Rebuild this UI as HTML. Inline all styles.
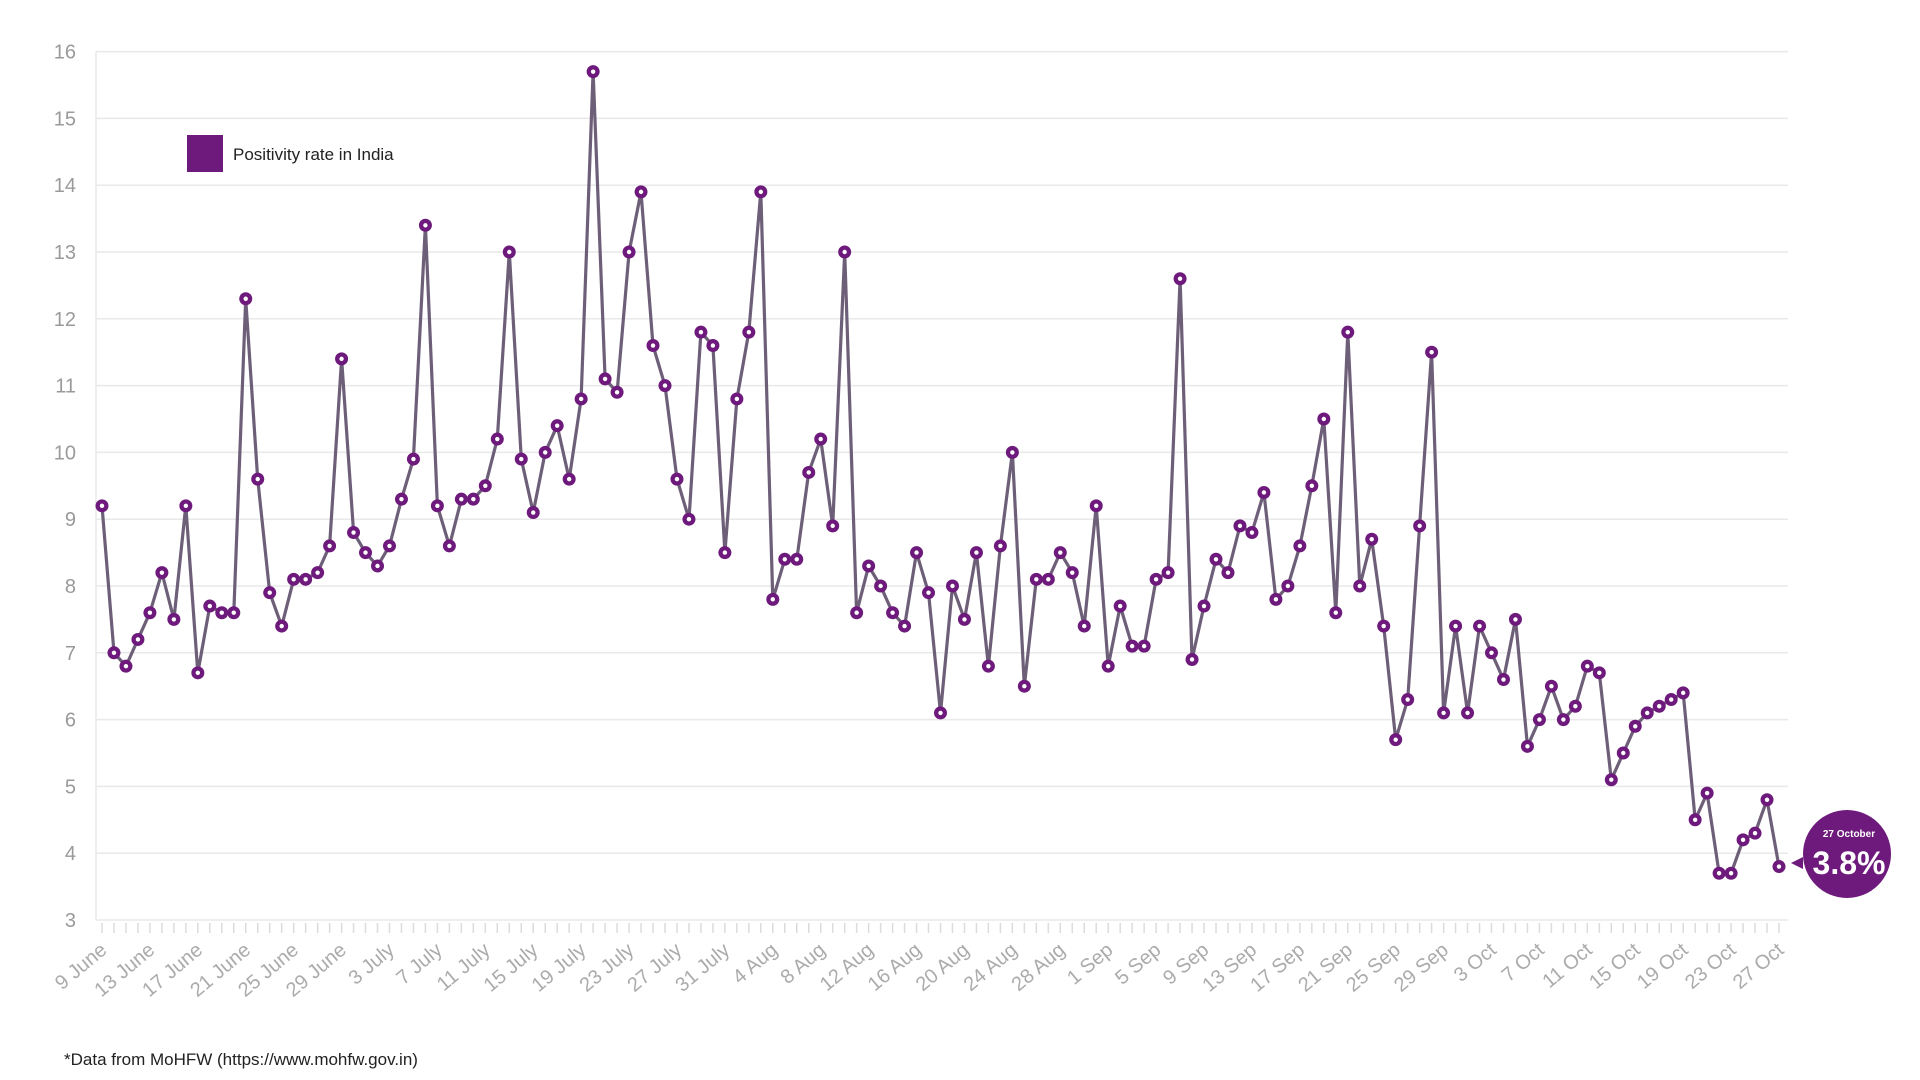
<!DOCTYPE html>
<html><head><meta charset="utf-8"><style>
html,body{margin:0;padding:0;background:#fff;width:1920px;height:1080px;overflow:hidden}
svg{display:block}
</style></head><body>
<svg id="chart" width="1920" height="1080" font-family="Liberation Sans, sans-serif">
<g id="grid"></g>
<g id="yaxis"></g>
<g id="xaxis"></g>
<path id="line" fill="none" stroke="#6e5f78" stroke-width="3.2" stroke-linejoin="round"></path>
<g id="points"></g>
<g>
<rect x="187" y="135" width="36" height="37" fill="#6e1a7c"/>
<text x="233" y="160" font-size="17" fill="#222">Positivity rate in India</text>
</g>
<g>
<polygon points="1791,863 1803,857 1803,869" fill="#6e1a7c"/>
<circle cx="1847" cy="854" r="44" fill="#6e1a7c"/>
<text x="1849" y="837" font-size="10" font-weight="bold" fill="#fff" text-anchor="middle">27 October</text>
<text x="1849" y="874" font-size="32" font-weight="bold" fill="#fff" text-anchor="middle">3.8%</text>
</g>
<text x="64" y="1065" font-size="17" fill="#222">*Data from MoHFW (https://www.mohfw.gov.in)</text>
</svg>
<script>
const values = [9.2,7.0,6.8,7.2,7.6,8.2,7.5,9.2,6.7,7.7,7.6,7.6,12.3,9.6,7.9,7.4,8.1,8.1,8.2,8.6,11.4,8.8,
8.5,8.3,8.6,9.3,9.9,13.4,9.2,8.6,9.3,9.3,9.5,10.2,13.0,9.9,9.1,10.0,10.4,9.6,10.8,15.7,11.1,10.9,13.0,13.9,11.6,11.0,9.6,9.0,11.8,11.6,8.5,
10.8,11.8,13.9,7.8,8.4,8.4,9.7,10.2,8.9,13.0,7.6,8.3,8.0,7.6,7.4,8.5,7.9,6.1,8.0,7.5,8.5,6.8,8.6,10.0,6.5,8.1,8.1,8.5,8.2,7.4,9.2,
6.8,7.7,7.1,7.1,8.1,8.2,12.6,6.9,7.7,8.4,8.2,8.9,8.8,9.4,7.8,8.0,8.6,9.5,10.5,7.6,11.8,8.0,8.7,7.4,5.7,6.3,8.9,11.5,6.1,7.4,
6.1,7.4,7.0,6.6,7.5,5.6,6.0,6.5,6.0,6.2,6.8,6.7,5.1,5.5,5.9,6.1,6.2,6.3,6.4,4.5,4.9,3.7,3.7,4.2,4.3,4.8,3.8];
const xTickLabels = ['9 June','13 June','17 June','21 June','25 June','29 June','3 July','7 July','11 July','15 July','19 July','23 July','27 July','31 July','4 Aug','8 Aug','12 Aug','16 Aug','20 Aug','24 Aug','28 Aug','1 Sep','5 Sep','9 Sep','13 Sep','17 Sep','21 Sep','25 Sep','29 Sep','3 Oct','7 Oct','11 Oct','15 Oct','19 Oct','23 Oct','27 Oct'];
const yTicks = [3,4,5,6,7,8,9,10,11,12,13,14,15,16];
const labelStep = 4;

const NS='http://www.w3.org/2000/svg';
const X0=102, X1=1779, Y3=920, YPER=66.8;
const xs = i => X0 + (X1-X0)*i/(values.length-1);
const ys = v => Y3 - (v-3)*YPER;
function mk(tag, attrs, parent){const e=document.createElementNS(NS,tag);for(const k in attrs)e.setAttribute(k,attrs[k]);parent.appendChild(e);return e;}
const grid=document.getElementById('grid'), yaxis=document.getElementById('yaxis'), xaxis=document.getElementById('xaxis');
yTicks.forEach(t=>{
  const l=mk('line',{x1:96,x2:1788,y1:ys(t),y2:ys(t),stroke:'#e9e9e9','stroke-width':1.5},grid);
  
  
  const tx=mk('text',{x:76,y:ys(t)+7,'font-size':20,fill:'#9a9a9a','text-anchor':'end'},yaxis);
  tx.textContent=t;
  
  
});
const ax=mk('line',{x1:96,x2:96,y1:ys(16),y2:Y3,stroke:'#e9e9e9','stroke-width':1.5},grid);


values.forEach((v,i)=>{
  const tk=mk('line',{x1:xs(i),x2:xs(i),y1:Y3+3,y2:Y3+13,stroke:'#dcdcdc','stroke-width':1.5},xaxis);
  
  
});
xTickLabels.forEach((lab,j)=>{
  const x=xs(j*labelStep), y=Y3+32;
  const t=mk('text',{x:x+6,y:y,'font-size':20,fill:'#ababab','text-anchor':'end',transform:`rotate(-40 ${x+6} ${y})`},xaxis);
  t.textContent=lab;
  
  
});
document.getElementById('line').setAttribute('d', values.map((v,i)=>(i?'L':'M')+xs(i).toFixed(1)+' '+ys(v).toFixed(1)).join(''));
const pts=document.getElementById('points');
values.forEach((v,i)=>{
  const c=mk('circle',{cx:xs(i),cy:ys(v),r:6.5,fill:'#6e1a7c'},pts);
  
  
  const d=mk('circle',{cx:xs(i),cy:ys(v),r:2.2,fill:'#fff'},pts);
  
  
});
</script>
</body></html>
